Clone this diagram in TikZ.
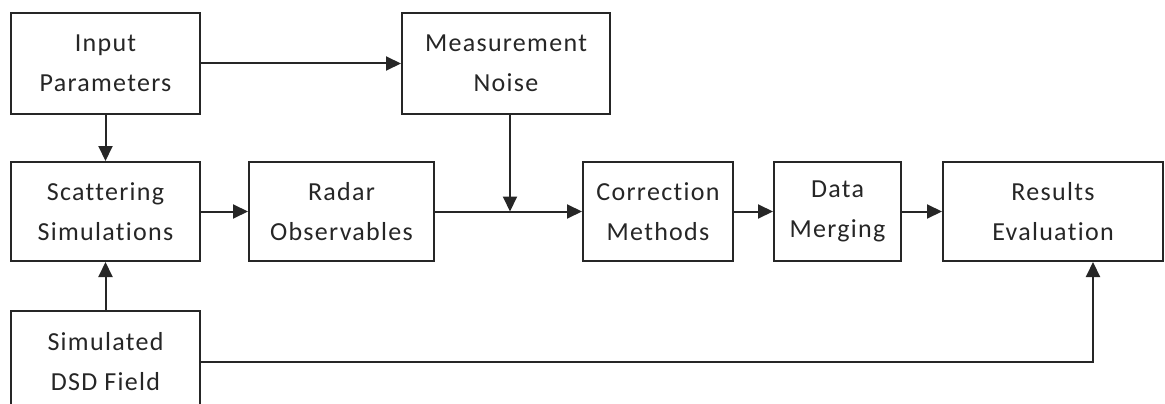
\documentclass[tikz,border=0pt]{standalone}
\usepackage{fontspec}
\setmainfont{Carlito}[LetterSpace=5,Ligatures=NoCommon]
\usetikzlibrary{arrows.meta}
\begin{document}
\begin{tikzpicture}[x=1pt,y=-1pt,
  box/.style={draw=black!85,line width=2pt,rectangle,align=center,inner sep=0pt,
    font=\fontsize{26}{40}\selectfont,text=black!85},
  conn/.style={draw=black!85,line width=2pt,-{Triangle[length=15pt,width=14pt]}}]
\useasboundingbox (0,0) rectangle (1165,404);
\clip (0,0) rectangle (1165,404);
\node[box,minimum width=189pt,minimum height=101pt] (inp) at (105.5,63.5) {Input\\Parameters};
\node[box,minimum width=208pt,minimum height=101pt] (noise) at (506,63.5) {Measurement\\Noise};
\node[box,minimum width=189pt,minimum height=99pt] (scat) at (105.5,211.5) {Scattering\\Simulations};
\node[box,minimum width=185pt,minimum height=99pt] (radar) at (341.5,211.5) {Radar\\Observables};
\node[box,minimum width=150pt,minimum height=99pt] (corr) at (658,211.5) {Correction\\Methods};
\node[box,minimum width=127pt,minimum height=99pt] (merge) at (837.5,211.5) {Data\\Merging};
\node[box,minimum width=220pt,minimum height=99pt] (res) at (1053,211.5) {Results\\Evaluation};
\node[box,minimum width=189pt,minimum height=101pt] (dsd) at (105.5,361.5) {Simulated\\DSD Field};
\coordinate (j) at (510,211.5);
\coordinate (k) at (1093,361.5);
\draw[conn] (inp.east) -- (noise.west);
\draw[conn] (inp.south) -- (scat.north);
\draw[conn] (scat.east) -- (radar.west);
\draw[conn] (radar.east) -- (corr.west);
\draw[conn] ([yshift=2pt]noise.south -| j) -- (j);
\draw[conn] (corr.east) -- (merge.west);
\draw[conn] (merge.east) -- (res.west);
\draw[conn] (dsd.north) -- (scat.south);
\draw[conn] (dsd.east) -- (k) -- (k |- res.south);
\end{tikzpicture}
\end{document}
